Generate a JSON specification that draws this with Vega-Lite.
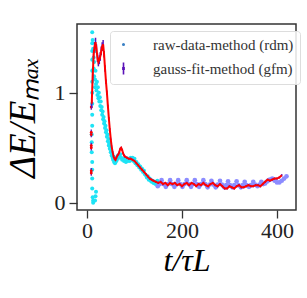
{
  "$schema": "https://vega.github.io/schema/vega-lite/v6.json",
  "width": 219,
  "height": 186,
  "autosize": {"type": "none"},
  "padding": {"left": 77, "top": 24, "right": 11, "bottom": 88},
  "background": "white",
  "config": {
    "view": {"stroke": "#333333", "strokeWidth": 1.5},
    "axis": {
      "domain": false, "grid": false,
      "tickColor": "#333333", "tickWidth": 1.3, "tickSize": 8,
      "labelFont": "Liberation Serif", "labelFontSize": 22, "labelColor": "#222222",
      "titleFont": "Liberation Serif", "titleFontStyle": "italic", "titleFontWeight": "normal",
      "titleColor": "#000000"
    },
    "legend": {
      "orient": "none", "legendX": 33, "legendY": 7,
      "padding": 6, "strokeColor": "#dddddd", "fillColor": "rgba(255,255,255,0.85)", "cornerRadius": 3,
      "labelFont": "Liberation Serif", "labelFontSize": 15, "labelColor": "#333333",
      "labelOffset": 22, "rowPadding": 6, "symbolSize": 144, "symbolStrokeWidth": 1.6
    }
  },
  "datasets": {
    "cyan": [
      {"t":11,"e":1.55},{"t":11,"e":1.45},{"t":11,"e":1.38},{"t":11,"e":1.30},{"t":11,"e":1.20},{"t":11,"e":1.10},{"t":11,"e":1.00},{"t":11,"e":0.90},{"t":11,"e":0.80},{"t":11,"e":0.70},{"t":10,"e":0.62},{"t":10,"e":0.55},{"t":10,"e":0.46},{"t":11,"e":0.37},{"t":11,"e":0.30},{"t":11,"e":0.22},{"t":11,"e":0.13},{"t":12,"e":0.05},{"t":13,"e":0.02},{"t":13,"e":0.00},{"t":17,"e":0.02},{"t":18,"e":0.06},{"t":19,"e":0.10},
      {"t":12,"e":1.48},{"t":13,"e":1.40},{"t":14,"e":1.32},{"t":14,"e":1.22},{"t":15,"e":1.15},{"t":15,"e":1.28},{"t":16,"e":1.38},{"t":17,"e":1.12},{"t":17,"e":1.05},{"t":18,"e":1.20},{"t":19,"e":1.08},{"t":20,"e":1.02},{"t":21,"e":1.10},{"t":22,"e":0.98},{"t":23,"e":1.05},{"t":24,"e":0.95},{"t":25,"e":1.00},{"t":26,"e":0.92},{"t":27,"e":0.96},{"t":28,"e":0.88},{"t":29,"e":0.92},{"t":30,"e":0.84},{"t":31,"e":0.87},{"t":32,"e":0.80},{"t":33,"e":0.83},{"t":34,"e":0.76},{"t":35,"e":0.78},{"t":36,"e":0.72},{"t":37,"e":0.74},{"t":38,"e":0.68},{"t":39,"e":0.70},{"t":40,"e":0.64},{"t":41,"e":0.66},{"t":42,"e":0.60},{"t":43,"e":0.62},{"t":44,"e":0.56},{"t":45,"e":0.58},{"t":46,"e":0.52},{"t":47,"e":0.54},{"t":48,"e":0.49},{"t":49,"e":0.51},{"t":50,"e":0.46},{"t":51,"e":0.48},{"t":52,"e":0.43},{"t":53,"e":0.45},{"t":54,"e":0.41},{"t":55,"e":0.39},{"t":56,"e":0.42},{"t":57,"e":0.37},{"t":58,"e":0.40},{"t":59,"e":0.36},{"t":60,"e":0.38},{"t":62,"e":0.38},{"t":63,"e":0.41},{"t":65,"e":0.40},{"t":66,"e":0.43},{"t":68,"e":0.42},{"t":70,"e":0.44},{"t":72,"e":0.41},{"t":74,"e":0.39},{"t":76,"e":0.40},{"t":78,"e":0.38},{"t":80,"e":0.40},{"t":82,"e":0.37},{"t":84,"e":0.39},{"t":86,"e":0.38},{"t":88,"e":0.40},{"t":90,"e":0.38},{"t":92,"e":0.41},{"t":94,"e":0.39},{"t":96,"e":0.41},{"t":98,"e":0.38},{"t":100,"e":0.40},{"t":102,"e":0.36},{"t":104,"e":0.37},{"t":106,"e":0.34},{"t":108,"e":0.35},{"t":110,"e":0.32},{"t":112,"e":0.33},{"t":114,"e":0.30},{"t":116,"e":0.31},{"t":118,"e":0.28},{"t":120,"e":0.29},{"t":122,"e":0.26},{"t":124,"e":0.25},{"t":126,"e":0.23},{"t":128,"e":0.24},{"t":130,"e":0.21},{"t":132,"e":0.22},{"t":134,"e":0.20},{"t":136,"e":0.19},{"t":138,"e":0.20},{"t":140,"e":0.18},{"t":142,"e":0.19},{"t":144,"e":0.17},{"t":146,"e":0.18},{"t":148,"e":0.20},{"t":150,"e":0.17}
    ],
    "blue": [
      {"t":149,"e":0.15},{"t":153,"e":0.17},{"t":157,"e":0.205},{"t":161,"e":0.17},
      {"t":166,"e":0.145},{"t":170,"e":0.17},{"t":175,"e":0.205},{"t":179,"e":0.17},
      {"t":184,"e":0.145},{"t":188,"e":0.17},{"t":192,"e":0.205},{"t":196,"e":0.17},
      {"t":201,"e":0.145},{"t":205,"e":0.17},{"t":210,"e":0.205},{"t":214,"e":0.17},
      {"t":219,"e":0.145},{"t":223,"e":0.17},{"t":227,"e":0.205},{"t":231,"e":0.17},
      {"t":236,"e":0.145},{"t":240,"e":0.17},{"t":245,"e":0.205},{"t":249,"e":0.17},
      {"t":254,"e":0.14},{"t":258,"e":0.165},{"t":262,"e":0.20},{"t":266,"e":0.165},
      {"t":271,"e":0.14},{"t":275,"e":0.165},{"t":280,"e":0.20},{"t":284,"e":0.165},
      {"t":289,"e":0.14},{"t":293,"e":0.16},{"t":297,"e":0.195},{"t":301,"e":0.16},
      {"t":306,"e":0.14},{"t":310,"e":0.16},{"t":315,"e":0.195},{"t":319,"e":0.16},
      {"t":324,"e":0.14},{"t":328,"e":0.16},{"t":332,"e":0.19},{"t":336,"e":0.16},
      {"t":341,"e":0.145},{"t":345,"e":0.16},{"t":350,"e":0.19},{"t":354,"e":0.165},
      {"t":359,"e":0.15},{"t":363,"e":0.165},{"t":367,"e":0.19},{"t":371,"e":0.17},
      {"t":375,"e":0.175},{"t":380,"e":0.195},{"t":385,"e":0.21},{"t":390,"e":0.22},{"t":395,"e":0.20},{"t":400,"e":0.185},{"t":405,"e":0.185},{"t":410,"e":0.20},{"t":415,"e":0.22},{"t":420,"e":0.24}
    ],
    "gfm": [
      {"t":10,"e":0.90,"err":0.04},{"t":12,"e":1.15,"err":0.04},{"t":14,"e":1.35,"err":0.04},{"t":16,"e":1.42,"err":0.04},{"t":18,"e":1.46,"err":0.04},{"t":20,"e":1.40,"err":0.04},{"t":22,"e":1.32,"err":0.04},{"t":24,"e":1.28,"err":0.04},{"t":26,"e":1.30,"err":0.04},{"t":28,"e":1.33,"err":0.04},{"t":30,"e":1.38,"err":0.04},{"t":32,"e":1.42,"err":0.04},{"t":34,"e":1.44,"err":0.04},{"t":36,"e":1.35,"err":0.03},{"t":38,"e":1.22,"err":0.03},{"t":40,"e":1.10,"err":0.02},{"t":42,"e":1.00,"err":0.02},{"t":44,"e":0.88,"err":0.01},{"t":46,"e":0.77,"err":0.01},{"t":48,"e":0.67,"err":0.01},{"t":50,"e":0.58,"err":0.01},{"t":52,"e":0.51,"err":0.01},{"t":54,"e":0.46,"err":0.01},{"t":56,"e":0.42,"err":0.01},{"t":58,"e":0.40,"err":0.01},{"t":60,"e":0.39,"err":0.01},{"t":62,"e":0.41,"err":0.01},{"t":64,"e":0.43,"err":0.01},{"t":66,"e":0.44,"err":0.01},{"t":68,"e":0.46,"err":0.01},{"t":70,"e":0.49,"err":0.01},{"t":72,"e":0.50,"err":0.01},{"t":74,"e":0.48,"err":0.01},{"t":76,"e":0.45,"err":0.01},{"t":78,"e":0.43,"err":0.01},{"t":80,"e":0.42,"err":0.01},{"t":84,"e":0.41,"err":0.01},{"t":88,"e":0.40,"err":0.01},{"t":92,"e":0.40,"err":0.01},{"t":96,"e":0.39,"err":0.01},{"t":100,"e":0.38,"err":0.01},{"t":104,"e":0.36,"err":0.01},{"t":108,"e":0.34,"err":0.01},{"t":112,"e":0.32,"err":0.01},{"t":116,"e":0.30,"err":0.01},{"t":120,"e":0.28,"err":0.01},{"t":124,"e":0.26,"err":0.01},{"t":128,"e":0.24,"err":0.01},{"t":132,"e":0.22,"err":0.01},{"t":136,"e":0.21,"err":0.01},{"t":140,"e":0.20,"err":0.01},{"t":145,"e":0.19,"err":0.01},{"t":150,"e":0.18,"err":0.01},{"t":155,"e":0.19,"err":0.01},{"t":160,"e":0.17,"err":0.01},{"t":165,"e":0.18,"err":0.01},{"t":170,"e":0.16,"err":0.01},{"t":175,"e":0.18,"err":0.01},{"t":180,"e":0.17,"err":0.01},{"t":185,"e":0.18,"err":0.01},{"t":190,"e":0.16,"err":0.01},{"t":195,"e":0.17,"err":0.01},{"t":200,"e":0.15,"err":0.01},{"t":205,"e":0.17,"err":0.01},{"t":210,"e":0.18,"err":0.01},{"t":215,"e":0.16,"err":0.01},{"t":220,"e":0.18,"err":0.01},{"t":225,"e":0.17,"err":0.01},{"t":230,"e":0.15,"err":0.01},{"t":235,"e":0.17,"err":0.01},{"t":240,"e":0.16,"err":0.01},{"t":245,"e":0.18,"err":0.01},{"t":250,"e":0.16,"err":0.01},{"t":255,"e":0.15,"err":0.01},{"t":260,"e":0.17,"err":0.01},{"t":265,"e":0.18,"err":0.01},{"t":270,"e":0.16,"err":0.01},{"t":275,"e":0.15,"err":0.01},{"t":280,"e":0.17,"err":0.01},{"t":285,"e":0.15,"err":0.01},{"t":290,"e":0.13,"err":0.01},{"t":295,"e":0.13,"err":0.01},{"t":300,"e":0.15,"err":0.01},{"t":305,"e":0.14,"err":0.01},{"t":310,"e":0.13,"err":0.01},{"t":315,"e":0.15,"err":0.01},{"t":320,"e":0.16,"err":0.01},{"t":325,"e":0.14,"err":0.01},{"t":330,"e":0.14,"err":0.01},{"t":335,"e":0.15,"err":0.01},{"t":340,"e":0.16,"err":0.01},{"t":345,"e":0.15,"err":0.01},{"t":350,"e":0.15,"err":0.01},{"t":355,"e":0.16,"err":0.01},{"t":360,"e":0.16,"err":0.01},{"t":365,"e":0.15,"err":0.01},{"t":370,"e":0.17,"err":0.01},{"t":375,"e":0.19,"err":0.01},{"t":380,"e":0.21,"err":0.01},{"t":385,"e":0.20,"err":0.01},{"t":390,"e":0.21,"err":0.01},{"t":395,"e":0.22,"err":0.01},{"t":400,"e":0.22,"err":0.01},{"t":405,"e":0.23,"err":0.01},{"t":410,"e":0.25,"err":0.01}
    ],
    "gfm0": [
      {"t":9,"e":0.27},{"t":9,"e":0.29},{"t":9,"e":0.50},{"t":9,"e":0.52},{"t":9,"e":0.62},{"t":9,"e":0.64},{"t":9,"e":0.87}
    ]
  },
  "encoding": {
    "x": {"field": "t", "type": "quantitative",
      "scale": {"domain": [-21, 440], "nice": false, "zero": false},
      "axis": {"values": [0, 200, 400], "title": "t/τL", "titleFontSize": 32, "titlePadding": 4, "labelPadding": 2}},
    "y": {"field": "e", "type": "quantitative",
      "scale": {"domain": [-0.066, 1.625], "nice": false, "zero": false},
      "axis": {"values": [0, 1], "title": "ΔE/Eₘₐₓ", "titleFontSize": 37, "titlePadding": 12, "labelPadding": 4}}
  },
  "layer": [
    {
      "data": {"name": "cyan"},
      "mark": {"type": "point", "filled": true, "size": 16, "color": "#1ee3f5", "opacity": 1}
    },
    {
      "data": {"name": "blue"},
      "mark": {"type": "point", "filled": false, "size": 4, "strokeWidth": 1, "opacity": 1},
      "encoding": {
        "color": {"datum": "raw-data-method (rdm)", "type": "nominal"},
        "shape": {"datum": "raw-data-method (rdm)", "type": "nominal"}
      }
    },
    {
      "data": {"name": "blue"},
      "mark": {"type": "point", "filled": true, "size": 22, "color": "#8c8cff", "opacity": 1}
    },
    {
      "data": {"name": "gfm0"},
      "mark": {"type": "point", "filled": false, "size": 30, "strokeWidth": 1.3, "opacity": 1},
      "encoding": {
        "color": {"datum": "gauss-fit-method (gfm)", "type": "nominal",
          "scale": {"domain": ["raw-data-method (rdm)", "gauss-fit-method (gfm)"], "range": ["#3a80c4", "#5a12b8"]},
          "legend": {"title": null}},
        "shape": {"datum": "gauss-fit-method (gfm)", "type": "nominal",
          "scale": {"domain": ["raw-data-method (rdm)", "gauss-fit-method (gfm)"],
            "range": ["M-0.12,0A0.12,0.12 0 1,0 0.12,0A0.12,0.12 0 1,0 -0.12,0Z", "M0,-1L0,1M-0.1,-0.1L0.1,-0.1L0.1,0.1L-0.1,0.1Z"]},
          "legend": {"title": null}}
      }
    },
    {
      "data": {"name": "gfm0"},
      "mark": {"type": "point", "filled": true, "size": 8, "color": "#ff0000", "opacity": 1}
    },
    {
      "data": {"name": "gfm"},
      "mark": {"type": "errorbar", "color": "#5a12b8", "thickness": 1.5},
      "encoding": {"yError": {"field": "err"}}
    },
    {
      "data": {"name": "gfm"},
      "mark": {"type": "line", "color": "#ff0000", "strokeWidth": 2}
    },
    {
      "data": {"values": [{}]},
      "mark": {"type": "rule", "color": "#5cb85c", "strokeWidth": 1.2},
      "encoding": {"y": {"datum": 0.05}, "x": {"datum": 0}, "x2": {"datum": 420}}
    }
  ]
}
